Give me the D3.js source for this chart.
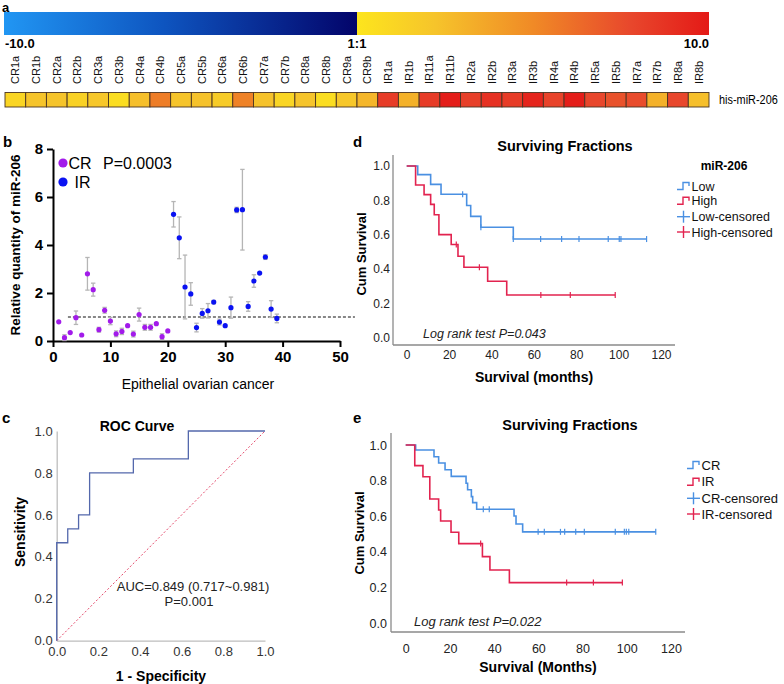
<!DOCTYPE html>
<html><head><meta charset="utf-8">
<script src="https://cdn.jsdelivr.net/npm/d3@7"></script>
<style>
body{margin:0;background:#fff}
svg{display:block}
text{font-family:"Liberation Sans",Arial,Helvetica,sans-serif}
</style>
</head><body>
<svg id="fig" width="784" height="684"></svg>
<script>
// ---------------- DATA ----------------
// Panel a: heatmap (fold change, -10..10 scale, 1:1 centre)
const heatSamples = ["CR1a","CR1b","CR2a","CR2b","CR3a","CR3b","CR4a","CR4b","CR5a","CR5b","CR6a","CR6b","CR7a","CR7b","CR8a","CR8b","CR9a","CR9b","IR1a","IR1b","IR11a","IR11b","IR2a","IR2b","IR3a","IR3b","IR4a","IR4b","IR5a","IR5b","IR7a","IR7b","IR8a","IR8b"];
const heatValues = [2.0,3.0,3.0,2.2,2.8,1.5,3.2,6.0,3.0,3.1,2.6,5.8,3.1,2.0,3.0,1.5,2.8,3.6,8.5,3.8,8.5,9.8,8.3,9.0,8.5,9.5,8.2,9.8,8.0,7.6,7.8,3.8,8.0,3.2];
const heatRowLabel = "his-miR-206";
const colorBarLabels = ["-10.0","1:1","10.0"];
const colorBarValues = [-10,1,10];

// Panel b: relative quantity of miR-206
const caseNo = [1,2,3,4,5,6,7,8,9,10,11,12,13,14,15,16,17,18,19,20,21,22,23,24,25,26,27,28,29,30,31,32,33,34,35,36,37,38,39];
const caseGroup = ["CR","CR","CR","CR","CR","CR","CR","CR","CR","CR","CR","CR","CR","CR","CR","CR","CR","CR","CR","CR","IR","IR","IR","IR","IR","IR","IR","IR","IR","IR","IR","IR","IR","IR","IR","IR","IR","IR","IR"];
const relQty = [0.80,0.14,0.35,0.97,0.25,2.80,2.14,0.47,1.28,0.83,0.30,0.40,0.64,0.29,1.10,0.57,0.57,0.72,0.18,0.42,5.28,4.30,2.25,1.96,0.56,1.15,1.26,1.62,0.79,0.64,1.39,5.46,5.47,1.44,2.50,2.83,3.50,1.33,0.94];
const relErr = [0,0.12,0,0.28,0.05,0.68,0.27,0.10,0.12,0.15,0.12,0.13,0.05,0.12,0.27,0.12,0.12,0.05,0.12,0.05,0.53,0.87,1.33,0.47,0.18,0.20,0.30,0.07,0.12,0.05,0.44,0.11,1.68,0.20,0.26,0.05,0.10,0.35,0.18];
const bXTicks = [0,10,20,30,40,50];
const bYTicks = [0,2,4,6,8];
const refLevel = 1.0;
const refRange = [2.6,52.6];

// Panel c: ROC curve vertices
const rocFpr = [0,0,0.053,0.053,0.105,0.105,0.158,0.158,0.368,0.368,0.632,0.632,1];
const rocTpr = [0,0.467,0.467,0.533,0.533,0.6,0.6,0.8,0.8,0.867,0.867,1,1];
const rocTicks = [0,0.2,0.4,0.6,0.8,1.0];

// Panel d: KM by miR-206 level
const lowTimes = [0,5.2,11.3,16.2,28.3,30.2,35.0,50.3];
const lowSurv = [1,0.95,0.893,0.835,0.77,0.706,0.643,0.574];
const lowCensor = [26.4,35.0,50.3,63.2,73.1,81.3,95.1,100.3,101.1,113.2];
const lowEnd = 113.2;
const highTimes = [0,4.2,8.2,11.3,13.0,15.2,21.0,24.2,27.0,38.2,47.2];
const highSurv = [1,0.889,0.833,0.776,0.716,0.6,0.542,0.474,0.41,0.328,0.248];
const highCensor = [23.4,34.3,63.3,77.2,98.4];
const highEnd = 98.4;

// Panel e: KM by response
const crTimes = [0,4.5,12.8,14.9,17.8,20.6,27.3,28.0,29.7,30.3,32.1,49.0,49.9,52.9];
const crSurv = [1,0.972,0.934,0.899,0.861,0.824,0.785,0.749,0.71,0.676,0.639,0.601,0.556,0.512];
const crCensor = [35.1,37.8,59.9,62.7,70.0,71.9,76.9,80.8,94.8,98.9,99.8,100.9,113.1];
const crEnd = 113.1;
const irTimes = [0,4.1,7.8,10.9,14.9,15.8,20.5,24.0,34.7,38.1,46.9];
const irSurv = [1,0.884,0.822,0.697,0.635,0.573,0.51,0.446,0.373,0.298,0.227];
const irCensor = [33.9,72.8,84.9,98.0];
const irEnd = 98.0;

const kmXTicks = [0,20,40,60,80,100,120];
const kmYTicks = [0,0.2,0.4,0.6,0.8,1.0];

// ---------------- DRAW ----------------
const svg = d3.select("#fig");
const defs = svg.append("defs");
const BLUE_KM = "#4A90E2", RED_KM = "#E2234F";

// ===== Panel a =====
svg.append("text").attr("x",2).attr("y",12).attr("font-weight","bold").attr("font-size",13).text("a");

const heatColor = d3.scaleLinear()
  .domain([1,3,5.5,8,10])
  .range(["#FDE51D","#F6C42B","#F08A26","#E8472C","#E41A17"]);
const xBar = d3.scaleLinear().domain(colorBarValues).range([4,357,709]);

const gBlue = defs.append("linearGradient").attr("id","gBlue");
[["0%","#2196F3"],["45%","#0E55C0"],["100%","#03046A"]].forEach(s=>gBlue.append("stop").attr("offset",s[0]).attr("stop-color",s[1]));
const gWarm = defs.append("linearGradient").attr("id","gWarm");
[1,3,5.5,8,10].forEach(v=>gWarm.append("stop").attr("offset",((v-1)/9*100)+"%").attr("stop-color",heatColor(v)));

svg.append("rect").attr("x",xBar(-10)).attr("y",12).attr("width",xBar(1)-xBar(-10)).attr("height",23).attr("fill","url(#gBlue)");
svg.append("rect").attr("x",xBar(1)).attr("y",12).attr("width",xBar(10)-xBar(1)).attr("height",23).attr("fill","url(#gWarm)");

colorBarLabels.forEach((l,i)=>{
  svg.append("text").attr("x",xBar(colorBarValues[i]) + (i===0?1:0)).attr("y",48)
    .attr("text-anchor", i===0?"start":(i===1?"middle":"end"))
    .attr("font-family","'Liberation Serif','DejaVu Serif',serif").attr("font-weight","bold")
    .attr("font-size",13).text(l);
});

const xCell = d3.scaleBand().domain(heatSamples).range([5,709]);
svg.append("g").selectAll("rect").data(heatSamples).join("rect")
  .attr("x",d=>xCell(d)).attr("y",92.5).attr("width",xCell.bandwidth()).attr("height",14.5)
  .attr("fill",(d,i)=>heatColor(heatValues[i])).attr("stroke","#4a3322").attr("stroke-width",0.9);
svg.append("g").selectAll("text").data(heatSamples).join("text")
  .attr("transform",d=>`translate(${xCell(d)+xCell.bandwidth()/2+4},84) rotate(-90)`)
  .attr("font-size",11).attr("fill","#111").text(d=>d);
svg.append("text").attr("transform","translate(719,104) scale(0.84,1)").attr("font-size",13)
  .text(heatRowLabel);

// ===== Panel b =====
svg.append("text").attr("x",3).attr("y",147).attr("font-weight","bold").attr("font-size",15).text("b");
const xB = d3.scaleLinear().domain([0,50]).range([53,340]);
const yB = d3.scaleLinear().domain([0,8]).range([341,149]);
const gb = svg.append("g");
const axBx = gb.append("g").attr("transform","translate(0,341)")
  .call(d3.axisBottom(xB).tickValues(bXTicks).tickSize(6).tickSizeOuter(0).tickPadding(4));
const axBy = gb.append("g").attr("transform","translate(53,0)")
  .call(d3.axisLeft(yB).tickValues(bYTicks).tickSize(6).tickSizeOuter(0).tickPadding(4));
[axBx,axBy].forEach(a=>{
  a.selectAll(".domain,line").attr("stroke","#000").attr("stroke-width",2);
  a.selectAll("text").attr("font-size",15).attr("font-weight","bold").attr("fill","#000").attr("font-family","'Liberation Sans',Arial,sans-serif");
});
// reference line
gb.append("line").attr("x1",xB(refRange[0])).attr("x2",xB(refRange[1])).attr("y1",yB(refLevel)).attr("y2",yB(refLevel))
  .attr("stroke","#111").attr("stroke-width",1.2).attr("stroke-dasharray","3,2");
const bData = caseNo.map((c,i)=>({x:c,y:relQty[i],e:relErr[i],g:caseGroup[i]}));
const groupColor = {CR:"#A21BEA", IR:"#0A12F2"};
// error bars
bData.filter(d=>d.e>0.06).forEach(d=>{
  const x = xB(d.x);
  gb.append("line").attr("x1",x).attr("x2",x).attr("y1",yB(d.y-d.e)).attr("y2",yB(d.y+d.e)).attr("stroke","#b5b5b5").attr("stroke-width",1.3);
  [d.y-d.e,d.y+d.e].forEach(v=>gb.append("line").attr("x1",x-2.2).attr("x2",x+2.2).attr("y1",yB(v)).attr("y2",yB(v)).attr("stroke","#b5b5b5").attr("stroke-width",1.3));
});
gb.append("g").selectAll("circle").data(bData).join("circle")
  .attr("cx",d=>xB(d.x)).attr("cy",d=>yB(d.y)).attr("r",2.6).attr("fill",d=>groupColor[d.g]);
// legend
gb.append("circle").attr("cx",63).attr("cy",163).attr("r",4.6).attr("fill",groupColor.CR);
gb.append("text").attr("x",68.5).attr("y",169).attr("font-size",16).text("CR");
gb.append("circle").attr("cx",63).attr("cy",182).attr("r",4.6).attr("fill",groupColor.IR);
gb.append("text").attr("x",74.5).attr("y",188).attr("font-size",16).text("IR");
gb.append("text").attr("x",103).attr("y",169).attr("font-size",16).text("P=0.0003");
gb.append("text").attr("x",198).attr("y",389).attr("text-anchor","middle").attr("font-size",14).text("Epithelial ovarian cancer");
gb.append("text").attr("transform","translate(20,245) rotate(-90)").attr("text-anchor","middle")
  .attr("font-size",13.5).attr("font-weight","bold").text("Relative quantity of miR-206");

// ===== Panel c =====
svg.append("text").attr("x",2).attr("y",423).attr("font-weight","bold").attr("font-size",15).text("c");
const xC = d3.scaleLinear().domain([0,1]).range([56.7,265]);
const yC = d3.scaleLinear().domain([0,1]).range([640.7,431]);
const gc = svg.append("g");
const axCx = gc.append("g").attr("transform","translate(0,640.7)")
  .call(d3.axisBottom(xC).tickValues(rocTicks).tickFormat(d3.format(".1f")).tickSize(0).tickSizeOuter(0).tickPadding(6));
const axCy = gc.append("g").attr("transform","translate(56.7,0)")
  .call(d3.axisLeft(yC).tickValues(rocTicks).tickFormat(d3.format(".1f")).tickSize(0).tickSizeOuter(0).tickPadding(4));
[axCx,axCy].forEach(a=>{
  a.select(".domain").attr("stroke","#bdbdbd").attr("stroke-width",1.3);
  a.selectAll("text").attr("font-size",13).attr("fill","#333").attr("font-family","'Liberation Sans',Arial,sans-serif");
});
gc.append("line").attr("x1",xC(0)).attr("y1",yC(0)).attr("x2",xC(1)).attr("y2",yC(1))
  .attr("stroke","#E4486A").attr("stroke-width",1).attr("stroke-dasharray","2,2");
const rocPts = rocFpr.map((f,i)=>[f,rocTpr[i]]);
gc.append("path").attr("d",d3.line().x(d=>xC(d[0])).y(d=>yC(d[1]))(rocPts))
  .attr("fill","none").attr("stroke","#5468AC").attr("stroke-width",1.3);
gc.append("text").attr("x",137).attr("y",431).attr("text-anchor","middle").attr("font-size",14).attr("font-weight","bold").text("ROC Curve");
gc.append("text").attr("transform","translate(25,532) rotate(-90)").attr("text-anchor","middle").attr("font-size",14).attr("font-weight","bold").text("Sensitivity");
gc.append("text").attr("x",161).attr("y",681).attr("text-anchor","middle").attr("font-size",14).attr("font-weight","bold").text("1 - Specificity");
gc.append("text").attr("x",193).attr("y",590.5).attr("text-anchor","middle").attr("font-size",13).attr("fill","#222").text("AUC=0.849 (0.717~0.981)");
gc.append("text").attr("x",189).attr("y",606).attr("text-anchor","middle").attr("font-size",13).attr("fill","#222").text("P=0.001");

// ===== KM panels =====
function survAt(times,surv,t){ let s=surv[0]; for(let i=0;i<times.length;i++){ if(times[i]<=t+1e-9) s=surv[i]; } return s; }
function drawKM(o){
  const g = svg.append("g");
  const x = d3.scaleLinear().domain([0,120]).range(o.xr);
  const y = d3.scaleLinear().domain([0,1]).range(o.yr);
  g.append("line").attr("x1",o.fx).attr("x2",o.fx).attr("y1",o.ft).attr("y2",o.fb).attr("stroke","#8a8a8a").attr("stroke-width",1.3);
  g.append("line").attr("x1",o.fx).attr("x2",o.fr).attr("y1",o.fb).attr("y2",o.fb).attr("stroke","#8a8a8a").attr("stroke-width",1.3);
  const ax = g.append("g").attr("transform",`translate(0,${o.fb})`).call(d3.axisBottom(x).tickValues(kmXTicks).tickSize(0).tickPadding(o.xPad));
  ax.select(".domain").remove();
  const ay = g.append("g").attr("transform",`translate(${o.fx},0)`).call(d3.axisLeft(y).tickValues(kmYTicks).tickFormat(d3.format(".1f")).tickSize(0).tickPadding(o.yPad));
  ay.select(".domain").remove();
  [ax,ay].forEach(a=>a.selectAll("text").attr("font-size",o.tickFs).attr("fill","#222").attr("font-family","'Liberation Sans',Arial,sans-serif"));
  o.series.forEach(s=>{
    const pts = s.times.map((t,i)=>[t,s.surv[i]]).concat([[s.end,s.surv[s.surv.length-1]]]);
    g.append("path").attr("d",d3.line().x(d=>x(d[0])).y(d=>y(d[1])).curve(d3.curveStepAfter)(pts))
      .attr("fill","none").attr("stroke",s.color).attr("stroke-width",1.6);
    s.censor.forEach(t=>{
      const v = survAt(s.times,s.surv,t);
      g.append("line").attr("x1",x(t)).attr("x2",x(t)).attr("y1",y(v)-3).attr("y2",y(v)+3).attr("stroke",s.color).attr("stroke-width",1.2);
    });
  });
  g.append("text").attr("x",o.titleX).attr("y",o.titleY).attr("text-anchor","middle").attr("font-size",14.5).attr("font-weight","bold").text("Surviving Fractions");
  g.append("text").attr("transform",`translate(${o.cumX},${o.cumY}) rotate(-90)`).attr("text-anchor","middle").attr("font-size",13).attr("font-weight","bold").text("Cum Survival");
  g.append("text").attr("x",o.xlabX).attr("y",o.xlabY).attr("text-anchor","middle").attr("font-size",14).attr("font-weight","bold").text(o.xlab);
  g.append("text").attr("x",o.logX).attr("y",o.logY).attr("font-size",o.logFs).attr("font-style","italic").attr("fill","#222").text(o.logText);
  if(o.legTitle) g.append("text").attr("x",o.legTitleX).attr("y",o.legTitleY).attr("text-anchor","middle").attr("font-size",12).attr("font-weight","bold").text(o.legTitle);
  o.legend.forEach((it,i)=>{
    const cy = o.legY[i], x0 = o.legX;
    if(it.type==="step"){
      g.append("path").attr("d",`M${x0},${cy+3.5}H${x0+6}V${cy-3.5}H${x0+12}V${cy}`).attr("fill","none").attr("stroke",it.color).attr("stroke-width",1.4);
    } else {
      g.append("line").attr("x1",x0).attr("x2",x0+13).attr("y1",cy).attr("y2",cy).attr("stroke",it.color).attr("stroke-width",1.4);
      g.append("line").attr("x1",x0+6.5).attr("x2",x0+6.5).attr("y1",cy-6).attr("y2",cy+6).attr("stroke",it.color).attr("stroke-width",1.4);
    }
    g.append("text").attr("x",x0+14.5).attr("y",cy+4.5).attr("font-size",o.legFs).attr("fill","#111").text(it.label);
  });
}

svg.append("text").attr("x",353).attr("y",147).attr("font-weight","bold").attr("font-size",15).text("d");
drawKM({
  xr:[406.7,661], yr:[337.5,166], fx:393, ft:155, fb:345, fr:675, xPad:5, yPad:3, tickFs:12,
  series:[
    {times:lowTimes,surv:lowSurv,censor:lowCensor,end:lowEnd,color:BLUE_KM},
    {times:highTimes,surv:highSurv,censor:highCensor,end:highEnd,color:RED_KM}
  ],
  titleX:565, titleY:151, cumX:366, cumY:254, xlab:"Survival (months)", xlabX:534, xlabY:382,
  logText:"Log rank test P=0.043", logX:423, logY:338, logFs:12.5,
  legTitle:"miR-206", legTitleX:724, legTitleY:170,
  legX:677, legY:[186,200.7,216.7,232], legFs:12.5,
  legend:[{type:"step",color:BLUE_KM,label:"Low"},{type:"step",color:RED_KM,label:"High"},{type:"cens",color:BLUE_KM,label:"Low-censored"},{type:"cens",color:RED_KM,label:"High-censored"}]
});

svg.append("text").attr("x",353).attr("y",423).attr("font-weight","bold").attr("font-size",15).text("e");
drawKM({
  xr:[405.7,671], yr:[623,445], fx:391, ft:433, fb:632, fr:685, xPad:12, yPad:4, tickFs:12.5,
  series:[
    {times:crTimes,surv:crSurv,censor:crCensor,end:crEnd,color:BLUE_KM},
    {times:irTimes,surv:irSurv,censor:irCensor,end:irEnd,color:RED_KM}
  ],
  titleX:570, titleY:430, cumX:364, cumY:533, xlab:"Survival (Months)", xlabX:538, xlabY:672,
  logText:"Log rank test P=0.022", logX:414, logY:626, logFs:13,
  legX:687, legY:[465,481.7,498.3,514], legFs:13,
  legend:[{type:"step",color:BLUE_KM,label:"CR"},{type:"step",color:RED_KM,label:"IR"},{type:"cens",color:BLUE_KM,label:"CR-censored"},{type:"cens",color:RED_KM,label:"IR-censored"}]
});
</script>
</body></html>
